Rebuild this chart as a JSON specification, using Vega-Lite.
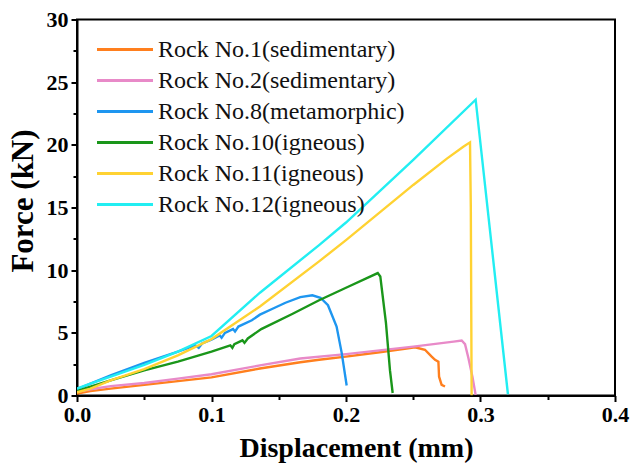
{
  "$schema": "https://vega.github.io/schema/vega-lite/v6.json",
  "width": 538,
  "height": 376,
  "autosize": {"type": "none"},
  "padding": {"left": 77, "top": 19.5, "right": 17, "bottom": 69.5},
  "background": "white",
  "config": {
    "view": {"stroke": "black", "strokeWidth": 2},
    "font": "Liberation Serif"
  },
  "data": {
    "values": [
      {"rock": "Rock No.1(sedimentary)", "x": 0, "y": 0.15},
      {"rock": "Rock No.1(sedimentary)", "x": 0.01, "y": 0.35},
      {"rock": "Rock No.1(sedimentary)", "x": 0.025, "y": 0.55},
      {"rock": "Rock No.1(sedimentary)", "x": 0.05, "y": 0.85},
      {"rock": "Rock No.1(sedimentary)", "x": 0.075, "y": 1.15},
      {"rock": "Rock No.1(sedimentary)", "x": 0.1, "y": 1.45},
      {"rock": "Rock No.1(sedimentary)", "x": 0.136, "y": 2.15},
      {"rock": "Rock No.1(sedimentary)", "x": 0.166, "y": 2.65},
      {"rock": "Rock No.1(sedimentary)", "x": 0.18, "y": 2.85},
      {"rock": "Rock No.1(sedimentary)", "x": 0.2, "y": 3.1},
      {"rock": "Rock No.1(sedimentary)", "x": 0.225, "y": 3.45},
      {"rock": "Rock No.1(sedimentary)", "x": 0.245, "y": 3.75},
      {"rock": "Rock No.1(sedimentary)", "x": 0.2513, "y": 3.85},
      {"rock": "Rock No.1(sedimentary)", "x": 0.2587, "y": 3.65},
      {"rock": "Rock No.1(sedimentary)", "x": 0.2637, "y": 3.1},
      {"rock": "Rock No.1(sedimentary)", "x": 0.2662, "y": 2.85},
      {"rock": "Rock No.1(sedimentary)", "x": 0.2687, "y": 2.7},
      {"rock": "Rock No.1(sedimentary)", "x": 0.2692, "y": 1.5},
      {"rock": "Rock No.1(sedimentary)", "x": 0.2711, "y": 0.85},
      {"rock": "Rock No.1(sedimentary)", "x": 0.2736, "y": 0.72},

      {"rock": "Rock No.2(sedimentary)", "x": 0, "y": 0.3},
      {"rock": "Rock No.2(sedimentary)", "x": 0.01, "y": 0.5},
      {"rock": "Rock No.2(sedimentary)", "x": 0.025, "y": 0.75},
      {"rock": "Rock No.2(sedimentary)", "x": 0.05, "y": 1.0},
      {"rock": "Rock No.2(sedimentary)", "x": 0.075, "y": 1.35},
      {"rock": "Rock No.2(sedimentary)", "x": 0.1, "y": 1.7},
      {"rock": "Rock No.2(sedimentary)", "x": 0.136, "y": 2.4},
      {"rock": "Rock No.2(sedimentary)", "x": 0.166, "y": 2.95},
      {"rock": "Rock No.2(sedimentary)", "x": 0.2, "y": 3.3},
      {"rock": "Rock No.2(sedimentary)", "x": 0.25, "y": 3.9},
      {"rock": "Rock No.2(sedimentary)", "x": 0.28, "y": 4.3},
      {"rock": "Rock No.2(sedimentary)", "x": 0.286, "y": 4.39},
      {"rock": "Rock No.2(sedimentary)", "x": 0.2885, "y": 4.1},
      {"rock": "Rock No.2(sedimentary)", "x": 0.291, "y": 3.0},
      {"rock": "Rock No.2(sedimentary)", "x": 0.294, "y": 1.5},
      {"rock": "Rock No.2(sedimentary)", "x": 0.2964, "y": 0.05},

      {"rock": "Rock No.8(metamorphic)", "x": 0, "y": 0.5},
      {"rock": "Rock No.8(metamorphic)", "x": 0.01, "y": 0.95},
      {"rock": "Rock No.8(metamorphic)", "x": 0.025, "y": 1.6},
      {"rock": "Rock No.8(metamorphic)", "x": 0.05, "y": 2.6},
      {"rock": "Rock No.8(metamorphic)", "x": 0.075, "y": 3.5},
      {"rock": "Rock No.8(metamorphic)", "x": 0.088, "y": 4.0},
      {"rock": "Rock No.8(metamorphic)", "x": 0.0905, "y": 3.8},
      {"rock": "Rock No.8(metamorphic)", "x": 0.093, "y": 4.15},
      {"rock": "Rock No.8(metamorphic)", "x": 0.1, "y": 4.45},
      {"rock": "Rock No.8(metamorphic)", "x": 0.106, "y": 4.8},
      {"rock": "Rock No.8(metamorphic)", "x": 0.1075, "y": 4.6},
      {"rock": "Rock No.8(metamorphic)", "x": 0.11, "y": 5.0},
      {"rock": "Rock No.8(metamorphic)", "x": 0.116, "y": 5.3},
      {"rock": "Rock No.8(metamorphic)", "x": 0.1175, "y": 5.1},
      {"rock": "Rock No.8(metamorphic)", "x": 0.12, "y": 5.5},
      {"rock": "Rock No.8(metamorphic)", "x": 0.13, "y": 6.0},
      {"rock": "Rock No.8(metamorphic)", "x": 0.136, "y": 6.45},
      {"rock": "Rock No.8(metamorphic)", "x": 0.145, "y": 6.9},
      {"rock": "Rock No.8(metamorphic)", "x": 0.155, "y": 7.4},
      {"rock": "Rock No.8(metamorphic)", "x": 0.166, "y": 7.85},
      {"rock": "Rock No.8(metamorphic)", "x": 0.175, "y": 8.0},
      {"rock": "Rock No.8(metamorphic)", "x": 0.181, "y": 7.8},
      {"rock": "Rock No.8(metamorphic)", "x": 0.1866, "y": 7.2},
      {"rock": "Rock No.8(metamorphic)", "x": 0.193, "y": 5.5},
      {"rock": "Rock No.8(metamorphic)", "x": 0.1968, "y": 3.4},
      {"rock": "Rock No.8(metamorphic)", "x": 0.2005, "y": 0.8},

      {"rock": "Rock No.10(igneous)", "x": 0, "y": 0.35},
      {"rock": "Rock No.10(igneous)", "x": 0.01, "y": 0.7},
      {"rock": "Rock No.10(igneous)", "x": 0.025, "y": 1.2},
      {"rock": "Rock No.10(igneous)", "x": 0.05, "y": 2.0},
      {"rock": "Rock No.10(igneous)", "x": 0.075, "y": 2.7},
      {"rock": "Rock No.10(igneous)", "x": 0.1, "y": 3.5},
      {"rock": "Rock No.10(igneous)", "x": 0.114, "y": 4.0},
      {"rock": "Rock No.10(igneous)", "x": 0.1155, "y": 3.8},
      {"rock": "Rock No.10(igneous)", "x": 0.117, "y": 4.1},
      {"rock": "Rock No.10(igneous)", "x": 0.123, "y": 4.4},
      {"rock": "Rock No.10(igneous)", "x": 0.1245, "y": 4.2},
      {"rock": "Rock No.10(igneous)", "x": 0.127, "y": 4.55},
      {"rock": "Rock No.10(igneous)", "x": 0.137, "y": 5.3},
      {"rock": "Rock No.10(igneous)", "x": 0.16, "y": 6.5},
      {"rock": "Rock No.10(igneous)", "x": 0.18, "y": 7.6},
      {"rock": "Rock No.10(igneous)", "x": 0.2, "y": 8.6},
      {"rock": "Rock No.10(igneous)", "x": 0.2236, "y": 9.77},
      {"rock": "Rock No.10(igneous)", "x": 0.2255, "y": 9.5},
      {"rock": "Rock No.10(igneous)", "x": 0.2297, "y": 5.8},
      {"rock": "Rock No.10(igneous)", "x": 0.2327, "y": 2.0},
      {"rock": "Rock No.10(igneous)", "x": 0.2347, "y": 0.2},

      {"rock": "Rock No.11(igneous)", "x": 0, "y": 0.25},
      {"rock": "Rock No.11(igneous)", "x": 0.01, "y": 0.55},
      {"rock": "Rock No.11(igneous)", "x": 0.025, "y": 1.2},
      {"rock": "Rock No.11(igneous)", "x": 0.05, "y": 2.1},
      {"rock": "Rock No.11(igneous)", "x": 0.075, "y": 3.2},
      {"rock": "Rock No.11(igneous)", "x": 0.1, "y": 4.5},
      {"rock": "Rock No.11(igneous)", "x": 0.136, "y": 7.1},
      {"rock": "Rock No.11(igneous)", "x": 0.18, "y": 10.7},
      {"rock": "Rock No.11(igneous)", "x": 0.2, "y": 12.4},
      {"rock": "Rock No.11(igneous)", "x": 0.25, "y": 16.8},
      {"rock": "Rock No.11(igneous)", "x": 0.275, "y": 18.9},
      {"rock": "Rock No.11(igneous)", "x": 0.2872, "y": 19.85},
      {"rock": "Rock No.11(igneous)", "x": 0.2922, "y": 20.2},
      {"rock": "Rock No.11(igneous)", "x": 0.2928, "y": 15.0},
      {"rock": "Rock No.11(igneous)", "x": 0.2934, "y": 0},

      {"rock": "Rock No.12(igneous)", "x": 0, "y": 0.55},
      {"rock": "Rock No.12(igneous)", "x": 0.01, "y": 0.95},
      {"rock": "Rock No.12(igneous)", "x": 0.025, "y": 1.5},
      {"rock": "Rock No.12(igneous)", "x": 0.05, "y": 2.45},
      {"rock": "Rock No.12(igneous)", "x": 0.075, "y": 3.5},
      {"rock": "Rock No.12(igneous)", "x": 0.1, "y": 4.75},
      {"rock": "Rock No.12(igneous)", "x": 0.136, "y": 8.2},
      {"rock": "Rock No.12(igneous)", "x": 0.18, "y": 12.0},
      {"rock": "Rock No.12(igneous)", "x": 0.2, "y": 13.8},
      {"rock": "Rock No.12(igneous)", "x": 0.25, "y": 18.8},
      {"rock": "Rock No.12(igneous)", "x": 0.2964, "y": 23.6},
      {"rock": "Rock No.12(igneous)", "x": 0.3204, "y": 0.1}
    ]
  },
  "mark": {"type": "line", "strokeWidth": 2.4, "clip": true},
  "encoding": {
    "x": {
      "field": "x",
      "type": "quantitative",
      "scale": {"domain": [0, 0.4], "nice": false, "zero": false},
      "axis": {
        "title": "Displacement (mm)",
        "values": [0, 0.05, 0.1, 0.15, 0.2, 0.25, 0.3, 0.35, 0.4],
        "labelExpr": "abs(datum.value*10 - round(datum.value*10)) < 0.001 ? format(datum.value, '.1f') : ''",
        "labelFont": "Liberation Serif",
        "labelFontWeight": "bold",
        "labelFontSize": 22,
        "labelColor": "black",
        "labelPadding": 3,
        "labelFlush": false,
        "labelOverlap": false,
        "tickColor": "black",
        "tickWidth": 2,
        "tickSize": {"condition": {"test": "abs(datum.value*10 - round(datum.value*10)) < 0.001", "value": 6}, "value": 4},
        "domainColor": "black",
        "domainWidth": 2,
        "grid": false,
        "titleFont": "Liberation Serif",
        "titleFontWeight": "bold",
        "titleFontSize": 28,
        "titleColor": "black",
        "titleX": 279,
        "titleY": 60.5,
        "titleAlign": "center",
        "titleBaseline": "alphabetic"
      }
    },
    "y": {
      "field": "y",
      "type": "quantitative",
      "scale": {"domain": [0, 30], "nice": false, "zero": false},
      "axis": {
        "title": "Force (kN)",
        "values": [0, 2.5, 5, 7.5, 10, 12.5, 15, 17.5, 20, 22.5, 25, 27.5, 30],
        "labelExpr": "datum.value % 5 == 0 ? format(datum.value, 'd') : ''",
        "labelFont": "Liberation Serif",
        "labelFontWeight": "bold",
        "labelFontSize": 22,
        "labelColor": "black",
        "labelPadding": 3,
        "labelFlush": false,
        "labelOverlap": false,
        "tickColor": "black",
        "tickWidth": 2,
        "tickSize": {"condition": {"test": "datum.value % 5 == 0", "value": 6}, "value": 4},
        "domainColor": "black",
        "domainWidth": 2,
        "grid": false,
        "titleFont": "Liberation Serif",
        "titleFontWeight": "bold",
        "titleFontSize": 31,
        "titleColor": "black",
        "titleX": -45,
        "titleY": 181,
        "titleAngle": -90,
        "titleAlign": "center",
        "titleBaseline": "alphabetic"
      }
    },
    "color": {
      "field": "rock",
      "type": "nominal",
      "scale": {
        "domain": ["Rock No.1(sedimentary)", "Rock No.2(sedimentary)", "Rock No.8(metamorphic)", "Rock No.10(igneous)", "Rock No.11(igneous)", "Rock No.12(igneous)"],
        "range": ["#FF7F1E", "#E88AC8", "#1E96F0", "#1A961A", "#FFD232", "#22EEF2"]
      },
      "legend": {
        "orient": "none",
        "legendX": 36,
        "legendY": 18,
        "title": null,
        "symbolType": "M-4,0H4",
        "symbolSize": 196,
        "symbolStrokeWidth": 3,
        "labelFont": "Liberation Serif",
        "labelFontSize": 24,
        "labelColor": "#111111",
        "labelOffset": 21,
        "labelLimit": 400,
        "rowPadding": 7,
        "padding": 0
      }
    }
  }
}
